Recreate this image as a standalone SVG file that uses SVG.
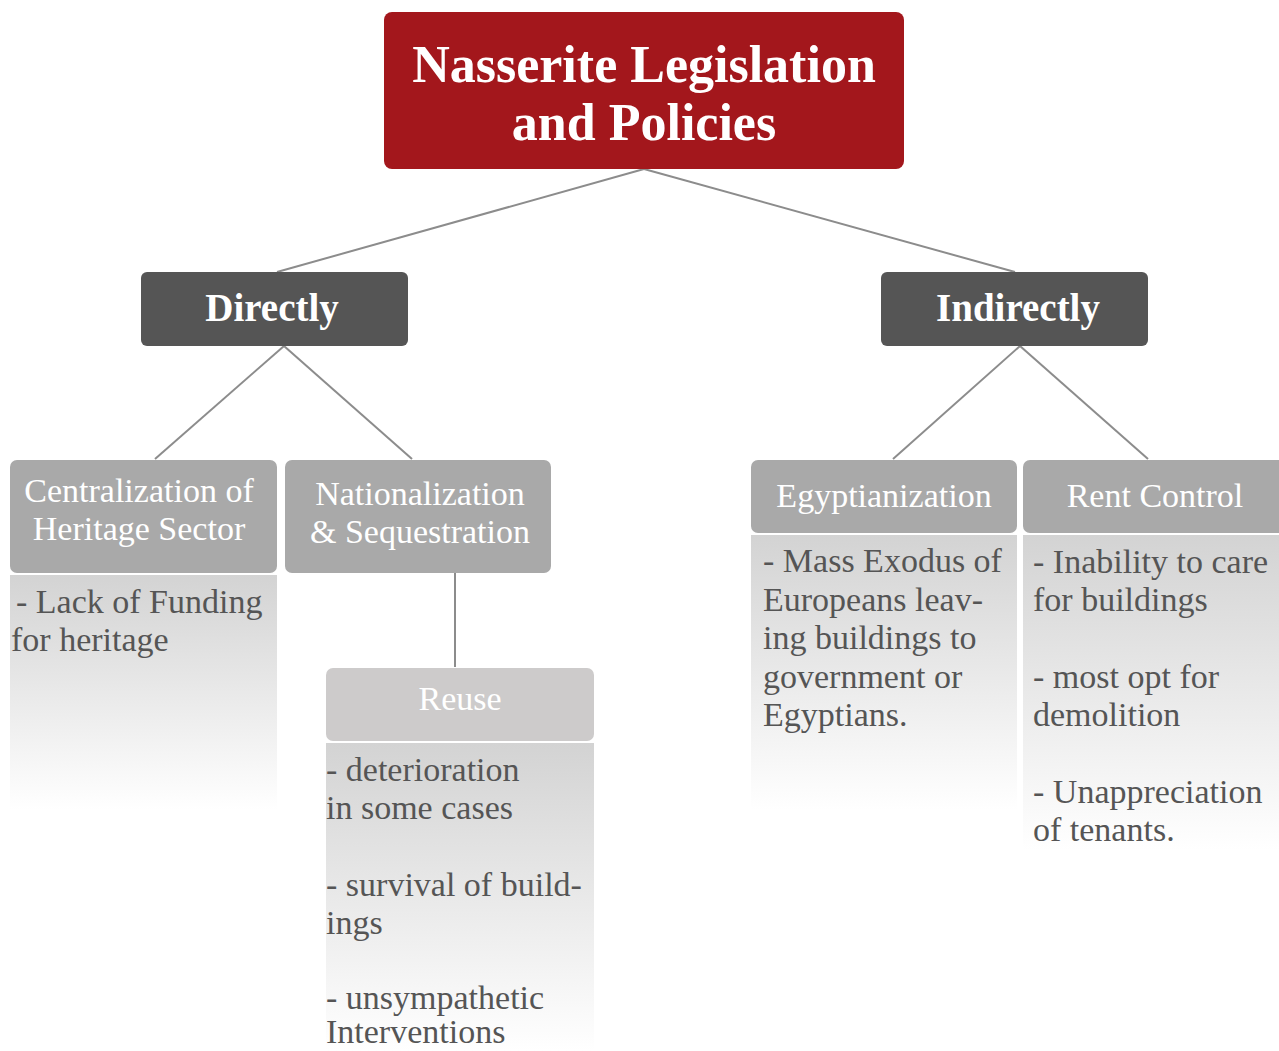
<svg xmlns="http://www.w3.org/2000/svg" width="1279" height="1051" viewBox="0 0 1279 1051">
<defs>
<linearGradient id="fade" x1="0" y1="0" x2="0" y2="1">
<stop offset="0" stop-color="#d3d3d3"/>
<stop offset="1" stop-color="#ffffff"/>
</linearGradient>
</defs>
<style>
.t{font-family:"Liberation Serif","Times New Roman",serif}
.root{fill:#a3171c}
.mid{fill:#555555}
.hd{fill:#a9a9a9}
.hd2{fill:#cdcbcb}
.wb{fill:#ffffff;font-weight:bold;text-anchor:middle}
.wh{fill:#ffffff;font-size:34px;text-anchor:middle}
.bd{fill:#555555;font-size:34px}
.body{fill:url(#fade)}
.ln{stroke:#8c8c8c;stroke-width:2;fill:none}
</style>
<rect width="1279" height="1051" fill="#ffffff"/>
<g id="connectors">
<line class="ln" x1="644" y1="169" x2="277" y2="272"/>
<line class="ln" x1="644" y1="169" x2="1015" y2="272"/>
<line class="ln" x1="284" y1="346" x2="155" y2="459"/>
<line class="ln" x1="284" y1="346" x2="412" y2="459"/>
<line class="ln" x1="1020" y1="346" x2="893" y2="459"/>
<line class="ln" x1="1020" y1="346" x2="1148" y2="459"/>
<line class="ln" x1="455" y1="573" x2="455" y2="667"/>
</g>
<g id="root">
<rect class="root" x="384" y="12" width="520" height="157" rx="8"/>
<text class="t wb" x="644" y="82" font-size="52">Nasserite Legislation</text>
<text class="t wb" x="644" y="140" font-size="52">and Policies</text>
</g>
<g id="directly">
<rect class="mid" x="141" y="272" width="267" height="74" rx="6"/>
<text class="t wb" x="272" y="321" font-size="39">Directly</text>
</g>
<g id="indirectly">
<rect class="mid" x="881" y="272" width="267" height="74" rx="6"/>
<text class="t wb" x="1018" y="321" font-size="39">Indirectly</text>
</g>
<g id="centralization">
<rect class="body" x="10" y="575" width="267" height="235"/>
<rect class="hd" x="10" y="460" width="267" height="113" rx="7"/>
<text class="t wh" x="139" y="502">Centralization of</text>
<text class="t wh" x="139" y="540">Heritage Sector</text>
<text class="t bd" x="16" y="613">- Lack of Funding</text>
<text class="t bd" x="11" y="651">for heritage</text>
</g>
<g id="nationalization">
<rect class="hd" x="285" y="460" width="266" height="113" rx="7"/>
<text class="t wh" x="420" y="505">Nationalization</text>
<text class="t wh" x="420" y="543">&amp; Sequestration</text>
</g>
<g id="reuse">
<rect class="body" x="326" y="743" width="268" height="308"/>
<rect class="hd2" x="326" y="668" width="268" height="73" rx="7"/>
<text class="t wh" x="460" y="710">Reuse</text>
<text class="t bd" x="326" y="781">- deterioration</text>
<text class="t bd" x="326" y="819">in some cases</text>
<text class="t bd" x="326" y="896">- survival of build-</text>
<text class="t bd" x="326" y="934">ings</text>
<text class="t bd" x="326" y="1009">- unsympathetic</text>
<text class="t bd" x="326" y="1043">Interventions</text>
</g>
<g id="egyptianization">
<rect class="body" x="751" y="535" width="266" height="275"/>
<rect class="hd" x="751" y="460" width="266" height="73" rx="7"/>
<text class="t wh" x="884" y="507">Egyptianization</text>
<text class="t bd" x="763" y="572">- Mass Exodus of</text>
<text class="t bd" x="763" y="611">Europeans leav-</text>
<text class="t bd" x="763" y="649">ing buildings to</text>
<text class="t bd" x="763" y="688">government or</text>
<text class="t bd" x="763" y="726">Egyptians.</text>
</g>
<g id="rentcontrol">
<rect class="body" x="1023" y="535" width="260" height="315"/>
<rect class="hd" x="1023" y="460" width="262" height="73" rx="7"/>
<text class="t wh" x="1155" y="507">Rent Control</text>
<text class="t bd" x="1033" y="573">- Inability to care</text>
<text class="t bd" x="1033" y="611">for buildings</text>
<text class="t bd" x="1033" y="688">- most opt for</text>
<text class="t bd" x="1033" y="726">demolition</text>
<text class="t bd" x="1033" y="803">- Unappreciation</text>
<text class="t bd" x="1033" y="841">of tenants.</text>
</g>
</svg>
